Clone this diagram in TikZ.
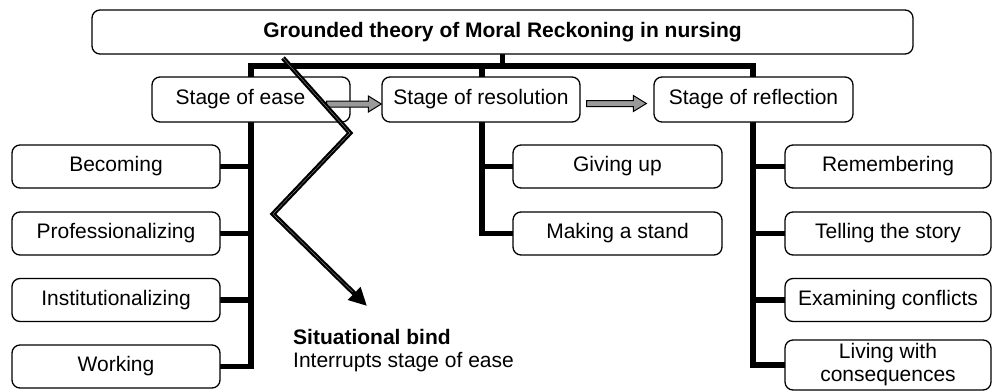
\documentclass[tikz,border=0pt]{standalone}
\usepackage{fontspec}
\setmainfont{Liberation Sans}
\usetikzlibrary{calc,arrows.meta,backgrounds}
\definecolor{arrowgray}{HTML}{9A9A9A}
% outlined block arrow between two points (same height as the start point)
\newcommand\blockarrow[2]{%
  \filldraw[grayarrow] let \p1=#1, \p2=#2 in
    (\x1,\y1-3pt) -- (\x2-13pt,\y1-3pt) -- (\x2-13pt,\y1-8pt) -- (\x2,\y1)
    -- (\x2-13pt,\y1+8pt) -- (\x2-13pt,\y1+3pt) -- (\x1,\y1+3pt) -- cycle;}
\begin{document}
\begin{tikzpicture}[x=1pt,y=-1pt,
  box/.style={draw, line width=1.3pt, rounded corners=8pt, fill=white,
    inner sep=0pt, align=center, font=\fontsize{21}{23}\selectfont},
  stagebox/.style={box, minimum width=198pt, minimum height=45pt},
  leafbox/.style={box, minimum width=208pt, minimum height=43pt},
  bus/.style={line width=5.5pt, line cap=rect, line join=miter},
  grayarrow/.style={draw=black, fill=arrowgray, line width=1pt, line join=miter},
  bindline/.style={line width=4.8pt, line join=miter},
]
\useasboundingbox (0,0) rectangle (992,391);

% bus anchor points
\coordinate (lb) at (251,66);
\coordinate (mb) at (482,66);
\coordinate (rb) at (753,66);

% title
\node[box, minimum width=821pt, minimum height=44pt, font=\fontsize{21}{23}\selectfont\bfseries]
  (title) at (502.5,32) {Grounded theory of Moral Reckoning in nursing};

% stages
\node[stagebox] (ease) at (251,99.5) {Stage of ease\hspace*{21pt}};
\node[stagebox] (res)  at (481,99.5) {Stage of resolution};
\node[stagebox, minimum width=199pt] (refl) at (753.5,99.5) {Stage of reflection};

% sub-processes
\node[leafbox] (becoming) at (116,166.5) {Becoming};
\node[leafbox] (prof)     at (116,233.5) {Professionalizing};
\node[leafbox] (inst)     at (116,300)   {Institutionalizing};
\node[leafbox] (work)     at (116,366.5) {Working};

\node[leafbox, minimum width=209pt] (giveup) at (617.5,166.5) {Giving up};
\node[leafbox, minimum width=209pt] (stand)  at (617.5,233.5) {Making a stand};

\node[leafbox, minimum width=206pt] (remember) at (888,166.5) {Remembering};
\node[leafbox, minimum width=206pt] (tell)     at (888,233.5) {Telling the story};
\node[leafbox, minimum width=206pt] (examine)  at (888,300)   {Examining conflicts};
\node[leafbox, minimum width=206pt, minimum height=50pt] (living) at (888,365) {Living with\\consequences};

% tree lines, behind the boxes
\begin{scope}[on background layer]
\draw[bus] (title.south) -- (title.south |- lb);
\draw[bus] (lb) -- (rb);
\draw[bus] (becoming.east) -| (lb);
\draw[bus] (prof.east) -| (lb);
\draw[bus] (inst.east) -| (lb);
\draw[bus] (work.east) -| (lb);
\draw[bus] (giveup.west) -| (mb);
\draw[bus] (stand.west) -| (mb);
\draw[bus] (remember.west) -| (rb);
\draw[bus] (tell.west) -| (rb);
\draw[bus] (examine.west) -| (rb);
\draw[bus] (living.west) -| (rb);
\end{scope}

% progression between stages
\blockarrow{($(ease.east)+(-24,4.5)$)}{($(res.west)+(0,4.5)$)}
\blockarrow{($(res.east)+(6,4)$)}{($(refl.west)+(-7,4)$)}

% situational bind zigzag
\coordinate (z0) at (283,58);
\coordinate (z1) at (350,133);
\coordinate (z2) at (273,214);
\coordinate (z3) at (367,306);
\draw[bindline, -{Triangle[length=18pt,width=17pt]}] (z0) -- (z1) -- (z2) -- (z3);
\draw[white!65!black, line width=0.3pt, line join=miter, shorten >=20pt] (z0) -- (z1) -- (z2) -- (z3);

\node[anchor=north west, align=left, inner sep=0pt, font=\fontsize{21}{23}\selectfont]
  (bind) at (293,329) {\textbf{Situational bind}\\Interrupts stage of ease};
\end{tikzpicture}
\end{document}
